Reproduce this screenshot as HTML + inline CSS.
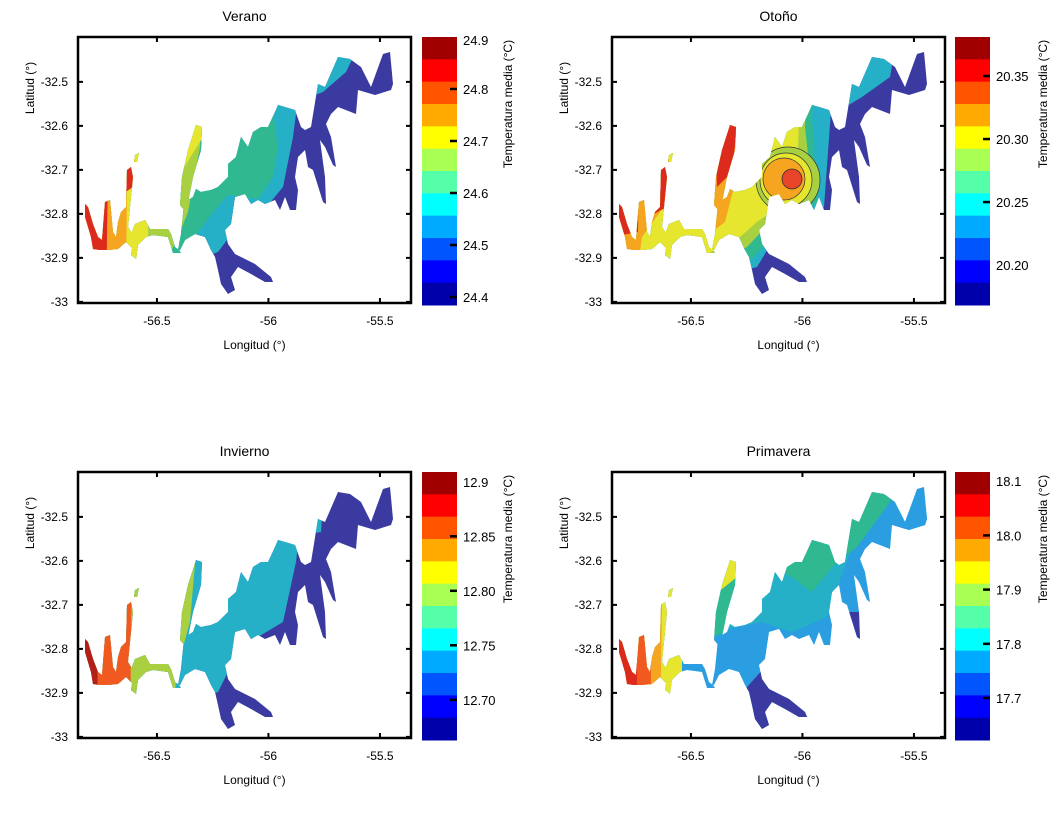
<!DOCTYPE html>
<html><head><meta charset="utf-8">
<style>
html,body{margin:0;padding:0;background:#fff;}
svg{display:block;font-family:"Liberation Sans",Arial,sans-serif;}
</style></head>
<body>
<svg id="fig" width="1060" height="814" viewBox="0 0 1060 814" xmlns="http://www.w3.org/2000/svg">
<defs>
<clipPath id="lakeclip">
<polygon points="100,213 103,197 106,167 110,163 115,160 118,152 123,155 133,153 140,150 150,140 150,127 158,120 163,100 170,110 175,95 183,90 190,90 197,75 200,68 207,70 217,73 223,90 227,93 233,90 240,47 247,50 260,20 272,22 283,30 293,50 305,17 312,15 315,47 313,53 297,58 280,53 278,77 260,70 253,77 248,87 253,100 258,130 255,128 247,110 242,103 247,140 248,167 245,165 235,133 230,130 227,113 220,120 217,140 220,153 218,173 212,173 207,160 202,173 197,163 187,167 180,163 173,167 167,157 157,160 153,187 147,193 150,207 157,217 177,227 193,240 195,245 187,245 173,237 160,230 153,240 157,253 150,257 143,247 140,233 137,220 133,213 127,200 117,197 107,203 102,213"/>
<polygon points="118,88 124,90 123,113 115,140 111,160 108,175 102,168 104,140 110,113"/>
<polygon points="57,187 67,183 72,192 90,192 93,197 97,210 101,213 103,216 95,216 90,200 75,198 68,200 60,208 58,222 53,218 55,205 52,200"/>
<polygon points="7,167 10,170 15,187 20,200 24,203 27,165 32,163 35,195 38,200 40,185 43,175 48,170 49,133 53,130 55,140 52,170 50,190 55,198 60,210 55,212 48,205 40,212 30,213 22,213 15,212 13,200 7,180"/>
<polygon points="57,118 61,116 59,125 56,125"/>
</clipPath>
</defs>
</svg>
<script>
// ---- data ----
const panelTitles = ["Verano", "Otoño", "Invierno", "Primavera"];
const lonTicks = [-56.5, -56, -55.5];
const latTicks = [-32.5, -32.6, -32.7, -32.8, -32.9, -33];
const bandColors = ["#a00000","#ff0000","#ff5500","#ffaa00","#ffff00","#aaff55","#55ffaa","#00ffff","#00aaff","#0055ff","#0000ff","#0000aa"];
const cbTicksVerano = ["24.9","24.8","24.7","24.6","24.5","24.4"];
const cbTicksOtono = ["20.35","20.30","20.25","20.20"];
const cbTicksInvierno = ["12.9","12.85","12.80","12.75","12.70"];
const cbTicksPrimavera = ["18.1","18.0","17.9","17.8","17.7"];
const cbTop = [24.9, 20.381, 12.909, 18.117];
const cbScale = [520, 1260, 1090, 542];
const cbDash = [[false,true,true,true,true,true],[true,true,true,false],[false,true,true,true,true],[false,true,true,true,true]];

const svg = document.getElementById('fig');
const NS = 'http://www.w3.org/2000/svg';
function mk(tag, attrs, parent){ const e=document.createElementNS(NS,tag); for(const k in attrs) e.setAttribute(k,attrs[k]); (parent||svg).appendChild(e); return e; }

const panels = [{x:78,y:37,cb:422},{x:612,y:37,cb:955},{x:78,y:472,cb:422},{x:612,y:472,cb:955}];
const W=333, H=266;
function lonX(lon){ return (lon+56.854)*223; }
function latY(lat){ return (-32.398-lat)*440; }

const C={dred:"#b02018",red:"#dc2a1c",ored:"#f05a20",orange:"#f5a520",yellow:"#e6e62e",ygreen:"#a8d040",green:"#30b890",cyan:"#25b0c8",lblue:"#2a9ee0",dblue:"#3a3aa0"};
const zones = [
 [ // Verano
  [C.dblue,"0,0 333,0 333,266 0,266"],
  [C.cyan,"0,0 228,0 215,100 205,150 190,168 155,195 140,215 0,266"],
  [C.cyan,"245,10 280,10 268,35 245,55 232,60"],
  [C.green,"0,0 200,0 195,75 200,110 195,140 180,162 150,158 135,175 120,195 105,215 0,266"],
  [C.ygreen,"0,0 125,0 122,110 110,175 100,200 68,266 0,266"],
  [C.yellow,"0,0 70,0 70,266 0,266"],
  [C.yellow,"100,0 140,0 125,100 100,140"],
  [C.orange,"0,0 50,0 48,266 0,266"],
  [C.red,"0,0 32,0 28,266 0,266"],
  [C.red,"40,0 62,0 55,150 40,160"]
 ],
 [ // Otoño
  [C.dblue,"0,0 333,0 333,266 0,266"],
  [C.cyan,"0,0 225,0 220,60 212,170 160,205 145,230 0,266"],
  [C.cyan,"250,0 285,0 278,40 250,60 230,72"],
  [C.green,"0,0 205,0 200,80 205,165 160,200 140,222 0,266"],
  [C.ygreen,"0,0 198,0 193,90 200,155 152,192 135,210 0,266"],
  [C.yellow,"0,0 190,0 186,110 195,150 145,185 128,200 0,266"],
  ["E",C.ygreen,176,143,32,33],
  ["E",C.yellow,174,143,26,27],
  ["E",C.orange,172,142,21,21],
  [C.orange,"95,0 140,0 122,150 113,185 100,195 95,190"],
  [C.orange,"0,0 50,0 48,175 30,200 28,215 0,215"],
  [C.red,"0,0 28,0 26,195 0,200"],
  [C.red,"40,0 60,0 55,170 40,178"],
  [C.red,"100,0 135,0 120,135 105,150"]
 ],
 [ // Invierno
  [C.dblue,"0,0 333,0 333,266 0,266"],
  [C.cyan,"0,0 228,0 218,90 205,150 180,165 160,180 140,220 0,266"],
  [C.cyan,"228,30 245,30 243,60 230,62"],
  [C.ygreen,"0,0 125,0 112,150 105,175 98,205 95,266 0,266"],
  [C.ored,"0,0 55,0 52,266 0,266"],
  [C.dred,"0,0 18,0 20,266 0,266"]
 ],
 [ // Primavera
  [C.lblue,"0,0 333,0 333,266 0,266"],
  [C.cyan,"0,0 240,0 245,60 215,145 180,160 150,150 100,160 0,266"],
  [C.green,"120,0 290,0 278,30 245,75 220,95 200,120 180,105 150,90"],
  [C.green,"95,110 128,105 115,160 100,165"],
  [C.lblue,"285,40 333,40 333,100 290,62"],
  [C.dblue,"120,232 160,187 220,200 220,266 120,266"],
  [C.dblue,"235,140 252,140 252,172 235,172"],
  [C.yellow,"0,0 70,0 70,266 0,266"],
  [C.yellow,"100,0 132,0 125,105 100,125"],
  [C.orange,"0,0 52,0 48,266 0,266"],
  [C.ored,"0,0 42,0 38,266 0,266"],
  [C.red,"0,0 25,0 25,266 0,266"]
 ]
];
const cbTickSets=[cbTicksVerano,cbTicksOtono,cbTicksInvierno,cbTicksPrimavera];

panels.forEach((p,i)=>{
  const g = mk('g',{transform:`translate(${p.x},${p.y})`});
  
  
  const t = mk('text',{x:W/2, y:-16, 'text-anchor':'middle','font-size':14},g);
  t.textContent = panelTitles[i];
  
  
  const lake = mk('g',{'clip-path':'url(#lakeclip)'},g);
  
  
  zones[i].forEach(z=>{
    let pg;
    if(z[0]==="E"){
      pg = mk('ellipse',{cx:z[2],cy:z[3],rx:z[4],ry:z[5],fill:z[1],stroke:'#333','stroke-width':0.7},lake);
    } else {
      pg = mk('polygon',{points:z[1],fill:z[0]},lake);
    }
    
    
  });
  if(i===1){
    const e=mk('ellipse',{cx:180,cy:142,rx:10,ry:10,fill:"#e8442a",stroke:"#333","stroke-width":0.8},lake);
    
    
  }
  const box = mk('rect',{x:0,y:0,width:W,height:H,fill:'none',stroke:'#000','stroke-width':2.5},g);
  
  
  lonTicks.forEach(v=>{
    const x=lonX(v);
    mk('line',{x1:x,y1:H,x2:x,y2:H-5,stroke:'#000','stroke-width':2},g);
    mk('line',{x1:x,y1:0,x2:x,y2:5,stroke:'#000','stroke-width':2},g);
    const l=mk('text',{x:x,y:H+22,'text-anchor':'middle','font-size':12},g);
    l.textContent=String(v);
    
    
  });
  latTicks.forEach(v=>{
    const y=latY(v);
    mk('line',{x1:0,y1:y,x2:5,y2:y,stroke:'#000','stroke-width':2},g);
    mk('line',{x1:W,y1:y,x2:W-5,y2:y,stroke:'#000','stroke-width':2},g);
    const l=mk('text',{x:-10,y:y+4,'text-anchor':'end','font-size':12},g);
    l.textContent=String(v);
    
    
  });
  const xl=mk('text',{x:W/2+10,y:H+46,'text-anchor':'middle','font-size':12},g);
  xl.textContent='Longitud (°)';
  
  
  const yl=mk('text',{x:0,y:0,'text-anchor':'middle','font-size':12,transform:`translate(-44,${H/2-82}) rotate(-90)`},g);
  yl.textContent='Latitud (°)';
  
  

  // colorbar
  const cb = mk('g',{transform:`translate(${p.cb},${p.y})`});
  
  
  const bh = 268/bandColors.length;
  bandColors.forEach((c,k)=>{
    const r=mk('rect',{x:0,y:k*bh,width:35,height:bh+0.5,fill:c},cb);
    
    
  });
  cbTickSets[i].forEach((s,k)=>{
    let y=(cbTop[i]-parseFloat(s))*cbScale[i];
    if(y<3) y=3;
    if(cbDash[i][k]) mk('line',{x1:28,y1:y,x2:35,y2:y,stroke:'#000','stroke-width':2.5},cb);
    const l=mk('text',{x:41,y:y+5,'font-size':13},cb);
    l.textContent=s;
    
    
  });
  const ct=mk('text',{x:0,y:0,'text-anchor':'middle','font-size':12,transform:`translate(${i%2?92:90},${H/2-66}) rotate(-90)`},cb);
  ct.textContent='Temperatura media (°C)';
  
  
});
</script>
</body></html>
